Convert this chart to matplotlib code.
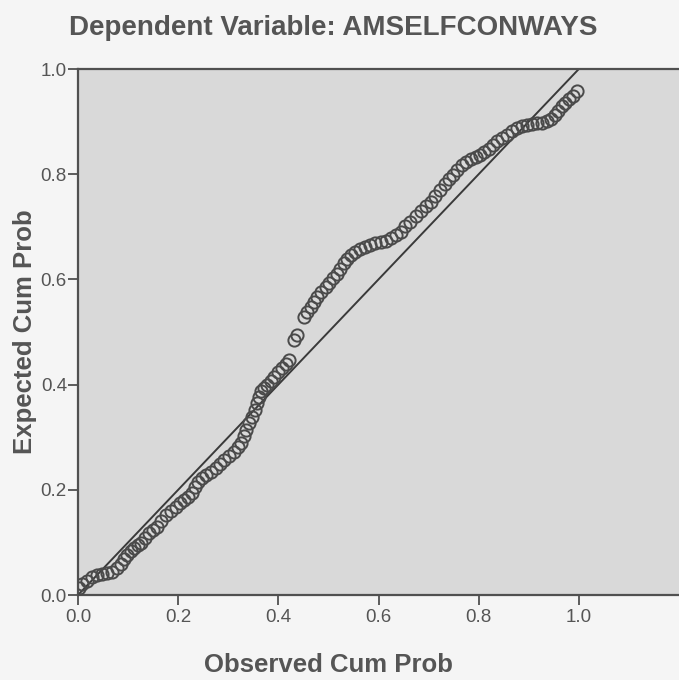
import matplotlib
matplotlib.use("Agg")
import matplotlib.pyplot as plt

# P-P plot of regression standardized residual
observed_cum_prob = [
    0.002, 0.008, 0.018, 0.028, 0.038, 0.048, 0.058, 0.068, 0.078, 0.086,
    0.092, 0.098, 0.106, 0.112, 0.120, 0.126, 0.134, 0.142, 0.150, 0.158,
    0.166, 0.176, 0.186, 0.196, 0.204, 0.212, 0.220, 0.228, 0.234, 0.240,
    0.248, 0.256, 0.266, 0.276, 0.284, 0.292, 0.302, 0.312, 0.320, 0.326,
    0.332, 0.336, 0.342, 0.348, 0.354, 0.358, 0.362, 0.366, 0.372, 0.378,
    0.386, 0.392, 0.400, 0.408, 0.416, 0.422, 0.432, 0.438, 0.452, 0.458,
    0.466, 0.472, 0.478, 0.486, 0.496, 0.502, 0.510, 0.518, 0.524, 0.532,
    0.538, 0.546, 0.554, 0.564, 0.574, 0.584, 0.594, 0.604, 0.614, 0.624,
    0.634, 0.644, 0.652, 0.662, 0.674, 0.684, 0.694, 0.704, 0.712, 0.722,
    0.732, 0.740, 0.748, 0.756, 0.766, 0.774, 0.784, 0.794, 0.802, 0.810,
    0.820, 0.828, 0.836, 0.846, 0.856, 0.866, 0.876, 0.886, 0.896, 0.906,
    0.916, 0.926, 0.936, 0.944, 0.952, 0.958, 0.966, 0.972, 0.980, 0.988,
    0.996,
]
expected_cum_prob = [
    0.013, 0.021, 0.027, 0.034, 0.038, 0.040, 0.042, 0.044, 0.051, 0.059,
    0.068, 0.076, 0.084, 0.089, 0.095, 0.099, 0.108, 0.118, 0.124, 0.129,
    0.141, 0.152, 0.160, 0.167, 0.175, 0.181, 0.186, 0.194, 0.205, 0.215,
    0.222, 0.228, 0.234, 0.241, 0.249, 0.257, 0.264, 0.272, 0.281, 0.289,
    0.302, 0.314, 0.327, 0.338, 0.352, 0.365, 0.376, 0.388, 0.394, 0.399,
    0.407, 0.414, 0.424, 0.432, 0.439, 0.447, 0.485, 0.494, 0.529, 0.538,
    0.548, 0.557, 0.567, 0.576, 0.586, 0.593, 0.603, 0.610, 0.620, 0.631,
    0.639, 0.646, 0.652, 0.658, 0.662, 0.665, 0.669, 0.671, 0.673, 0.679,
    0.684, 0.690, 0.702, 0.709, 0.721, 0.730, 0.740, 0.747, 0.759, 0.770,
    0.781, 0.791, 0.798, 0.808, 0.817, 0.823, 0.829, 0.833, 0.837, 0.842,
    0.848, 0.856, 0.863, 0.869, 0.875, 0.882, 0.888, 0.892, 0.894, 0.895,
    0.897, 0.897, 0.901, 0.905, 0.913, 0.920, 0.930, 0.935, 0.943, 0.949,
    0.958,
]
ref_line = [0.0, 1.0]
tick_vals = [0.0, 0.2, 0.4, 0.6, 0.8, 1.0]
tick_labels = ["0.0", "0.2", "0.4", "0.6", "0.8", "1.0"]

plt.rcParams['font.family'] = ['Liberation Sans', 'DejaVu Sans']

fig = plt.figure(figsize=(6.79, 6.80), dpi=100, facecolor='#f5f5f5')
ax = fig.add_axes([78 / 679, 85 / 680, 601 / 679, 526 / 680])
ax.set_facecolor('#d9d9d9')

# reference diagonal
ax.plot(ref_line, ref_line, color='#3a3a3a', lw=1.4, zorder=2)

# open circles
ax.plot(observed_cum_prob, expected_cum_prob, linestyle='none', marker='o',
        markersize=8.8, markerfacecolor='none', markeredgecolor='#4a4a4a',
        markeredgewidth=1.4, zorder=3)

ax.set_xlim(0, 1.2)
ax.set_ylim(0, 1.0)
ax.set_xticks(tick_vals)
ax.set_xticklabels(tick_labels)
ax.set_yticks(tick_vals)
ax.set_yticklabels(tick_labels)

for side in ['left', 'top', 'bottom']:
    ax.spines[side].set_color('#505050')
    ax.spines[side].set_linewidth(1.6)
ax.spines['right'].set_visible(False)

ax.tick_params(axis='both', direction='out', length=7, width=1.3,
               color='#505050', labelcolor='#555555', labelsize=13.5)
ax.tick_params(axis='x', pad=3)
ax.tick_params(axis='y', pad=1)

ax.set_xlabel('Observed Cum Prob', fontsize=18.5, fontweight='bold',
              color='#555555')
ax.xaxis.set_label_coords(0.5 / 1.2, -0.11)
ax.set_ylabel('Expected Cum Prob', fontsize=18.5, fontweight='bold',
              color='#555555')
ax.yaxis.set_label_coords(-0.068, 0.5)

fig.text(333 / 679, 1 - 28 / 680, 'Dependent Variable: AMSELFCONWAYS',
         ha='center', va='center', fontsize=20, fontweight='bold',
         color='#555555')

fig.savefig('out.png', dpi=100, facecolor=fig.get_facecolor())
